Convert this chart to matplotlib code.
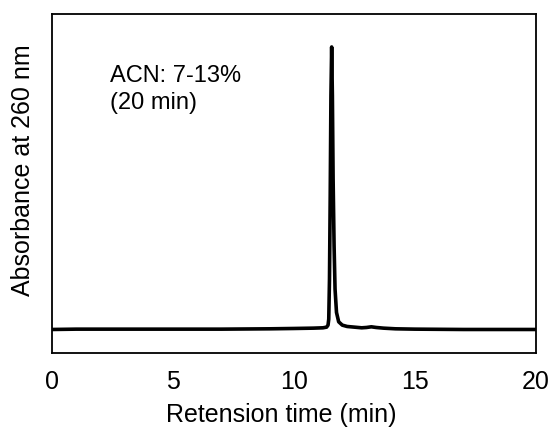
import matplotlib
matplotlib.use('Agg')
import matplotlib.pyplot as plt
import numpy as np

plt.rcParams.update({
    'font.family': ['Liberation Sans', 'DejaVu Sans'],
    'font.size': 18,
})

# 保留时间 (min) 与吸光度 (mAU)
time_min = [0.0, 1.0, 3.0, 5.0, 7.0, 9.0, 10.0, 10.8, 11.2, 11.35, 11.41,
            11.44, 11.47, 11.50, 11.53, 11.56, 11.59, 11.62, 11.66, 11.70,
            11.76, 11.85, 12.0, 12.2, 12.5, 12.8, 13.0, 13.2, 13.4, 13.7,
            14.2, 15.0, 17.0, 20.0]
absorbance = [-1, 0, 0, 0, 0, 1, 2, 3, 4, 6, 12,
              30, 150, 400, 700, 846, 700, 450, 250, 120,
              50, 22, 12, 8, 6, 4, 5, 7, 5, 3,
              1, 0, -1, -1]

x_ticks = [0, 5, 10, 15, 20]
note = 'ACN: 7-13%\n(20 min)'

fig, ax = plt.subplots(figsize=(5.53, 4.36), dpi=100)
ax.plot(time_min, absorbance, color='black', linewidth=2.6,
        solid_joinstyle='round', solid_capstyle='round')

ax.set_xlim(0, 20)
ax.set_ylim(-72, 945)
ax.set_xticks(x_ticks)
ax.set_yticks([])
ax.tick_params(axis='x', length=0, pad=12, labelsize=18)
for s in ax.spines.values():
    s.set_linewidth(1.3)

ax.set_xlabel('Retension time (min)', fontsize=18)
ax.set_ylabel('Absorbance at 260 nm', fontsize=18)
ax.xaxis.set_label_coords(0.474, -0.147)
ax.yaxis.set_label_coords(-0.036, 0.54)
ax.text(0.12, 0.85, note, transform=ax.transAxes, fontsize=17,
        ha='left', va='top', linespacing=1.3)

fig.subplots_adjust(left=0.094, right=0.969, top=0.968, bottom=0.19)
fig.savefig('out.png', dpi=100)
